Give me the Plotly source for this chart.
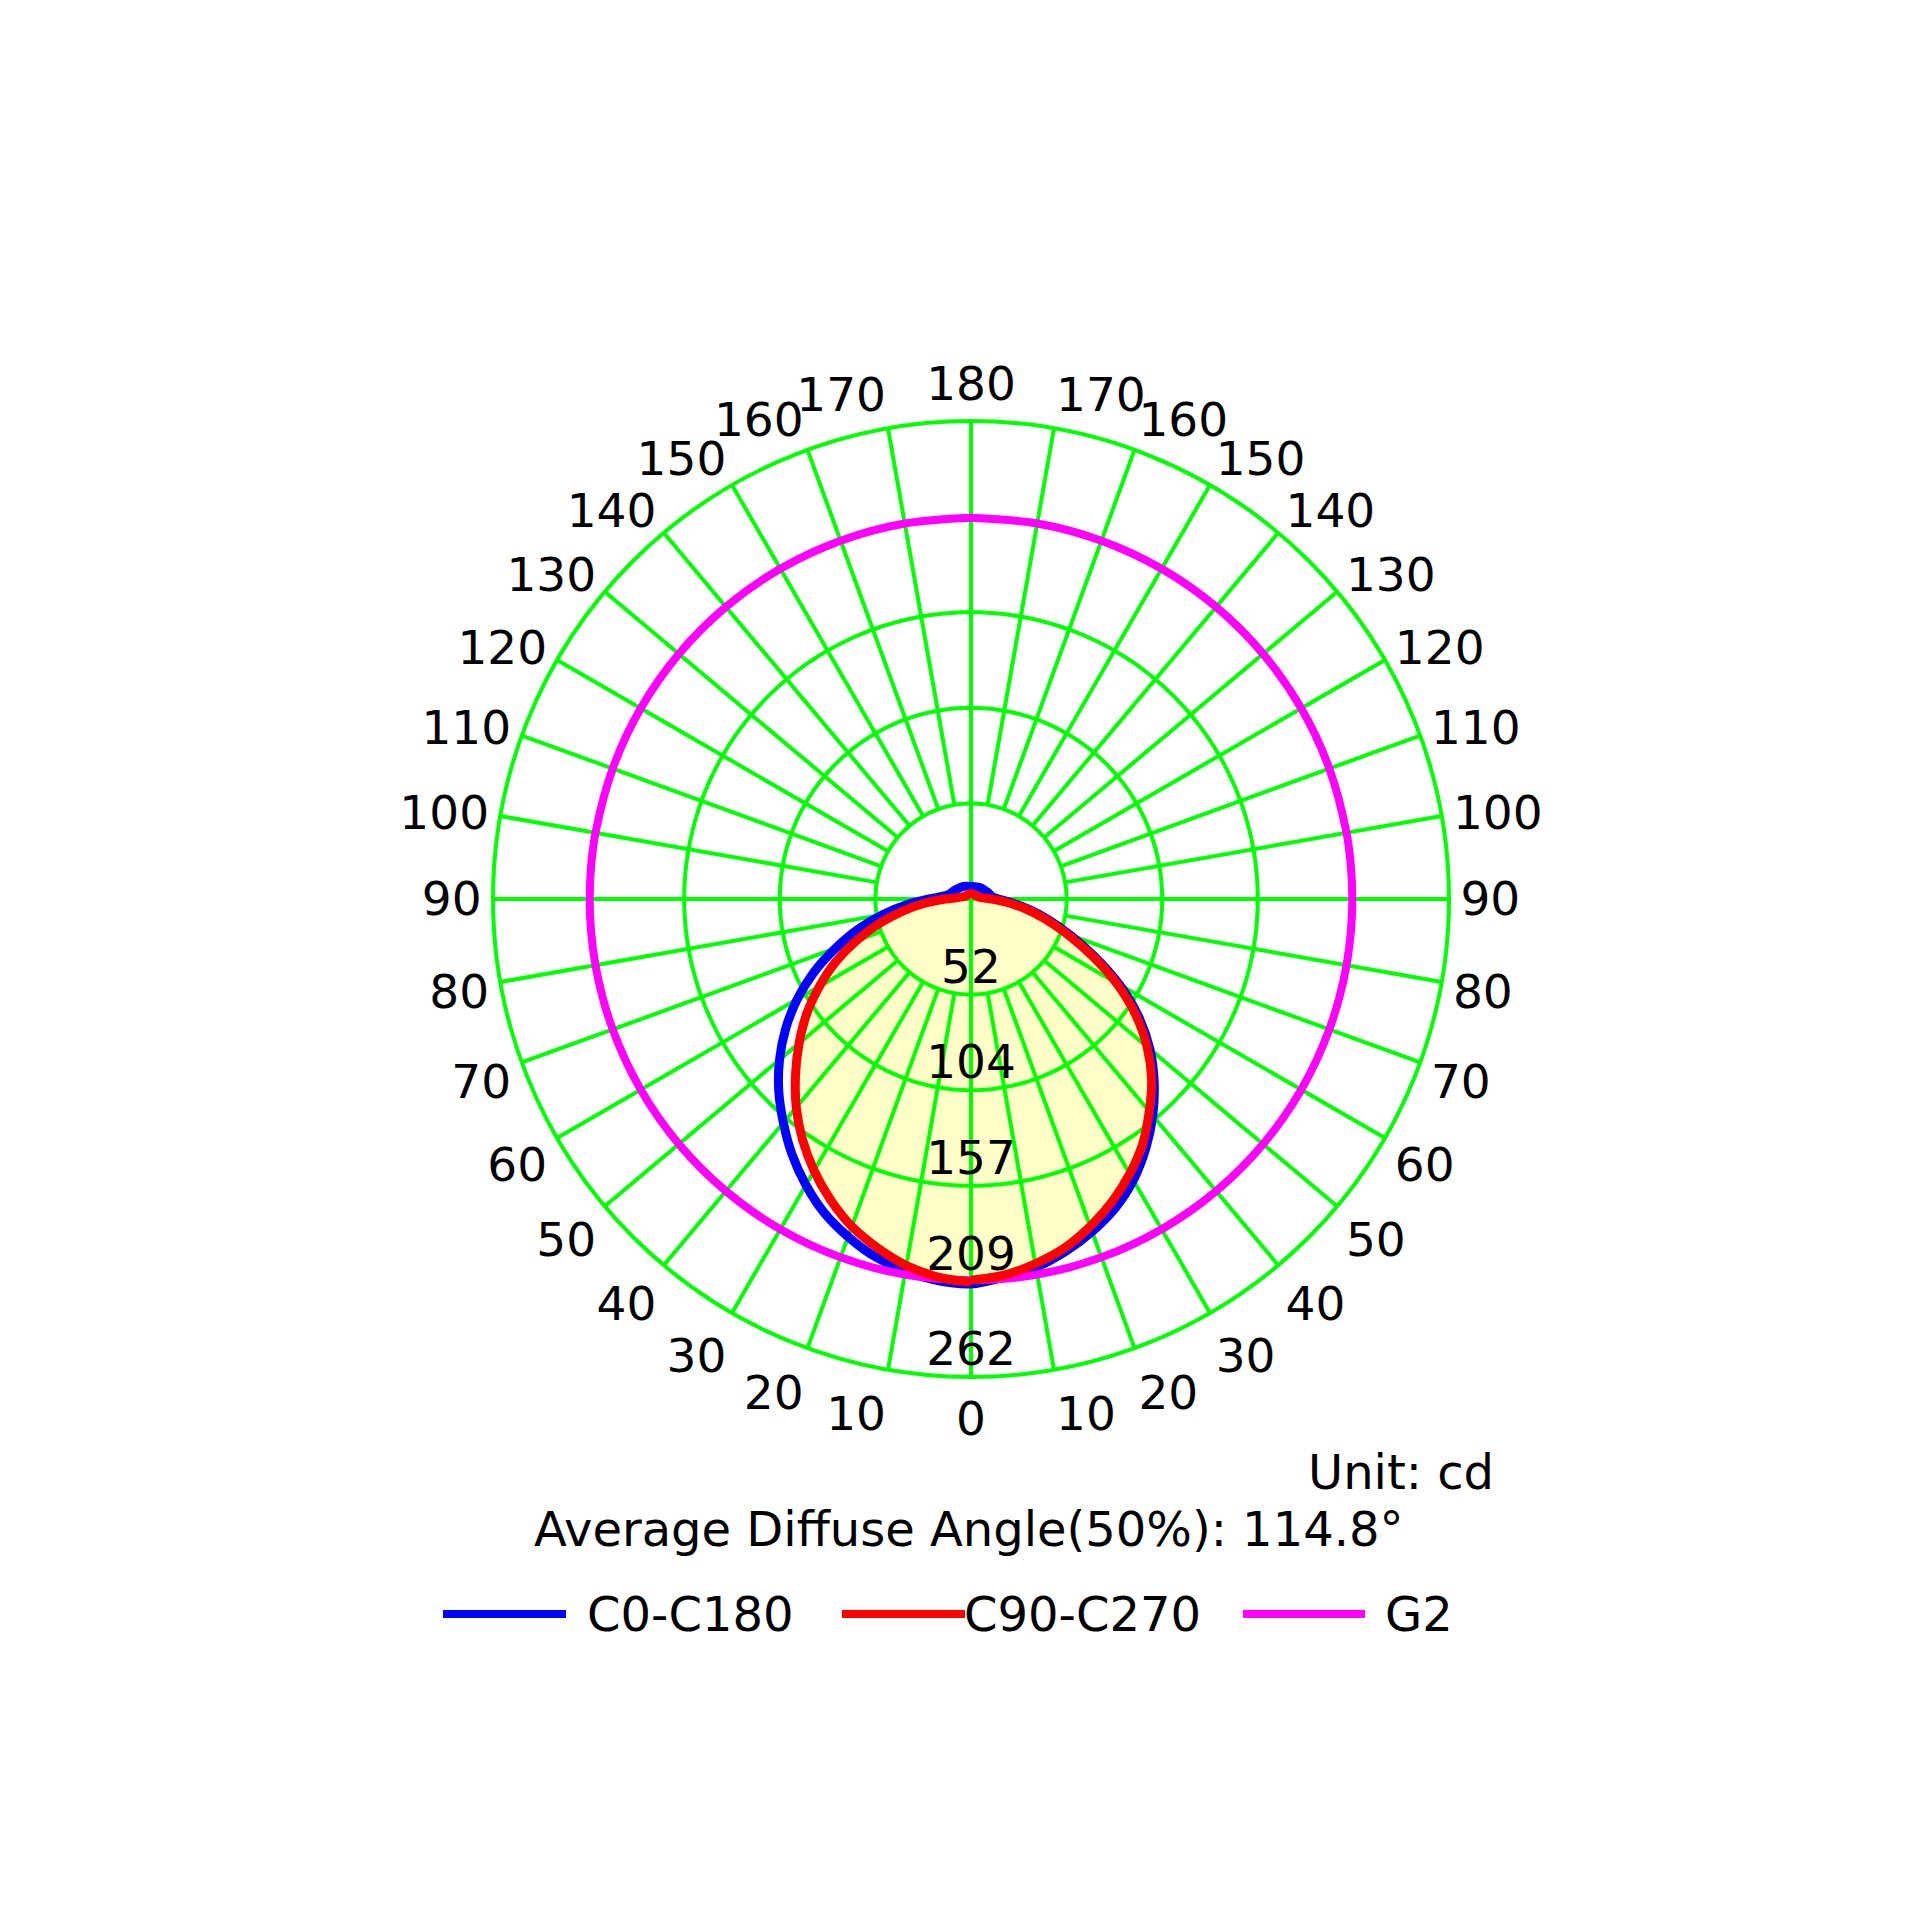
import plotly.graph_objects as go

# ---------------- data ----------------
gamma = [0, 5, 10, 15, 20, 25, 30, 35, 40, 45, 50, 55, 60, 65, 70, 75, 80, 85, 90,
         95, 100, 110, 120, 130, 140, 150, 160, 170, 180]

c0 = [211, 210, 207, 203, 197, 190, 181, 171, 160, 149, 137, 124, 110, 95, 79, 64, 49, 35, 23,
      16, 13, 11, 10, 9, 8.5, 8, 7.5, 7, 7]
c180 = [211, 208, 205, 200, 194, 187, 178, 167, 155, 142, 128, 112, 94, 75, 58, 44, 32, 22, 15,
        12, 11, 10, 9, 8.5, 8, 7.5, 7, 7, 7]
c90 = [210, 208, 204, 198, 191, 182, 172, 161, 149, 136, 123, 110, 96, 82, 67, 52, 38, 25, 14,
       8, 6, 4, 3.5, 3, 3, 3, 3, 3, 3]
c270 = [209, 207, 203, 198, 191, 183, 174, 164, 152, 140, 126, 110, 92, 73, 56, 42, 30, 19, 11,
        7, 5, 4, 3.5, 3, 3, 3, 3, 3, 3]
g2_left = [209, 209, 209, 209, 209, 209, 209, 209, 209, 209, 209, 209, 209, 209, 209, 209, 209, 209, 209,
           209, 209, 209, 209, 209, 209, 209, 209, 209, 209]
g2_right = [209, 209, 209, 209, 209, 209, 209, 209, 209, 209, 209, 209, 209, 209, 209, 209, 209, 209, 209,
            209, 209, 209, 209, 209, 209, 209, 209, 209, 209]

series_names = ["C0-C180", "C90-C270", "G2"]
series_colors = ["#0000FF", "#FF0000", "#FF00FF"]

r_max = 262
ring_values = [52.4, 104.8, 157.2, 209.6, 262]
ring_labels = ["52", "104", "157", "209", "262"]
angle_ticks = list(range(0, 360, 10))
angle_labels = [str(a if a <= 180 else 360 - a) for a in angle_ticks]

unit_text = "Unit: cd"
diffuse_text = "Average Diffuse Angle(50%): 114.8°"

FONT = "DejaVu Sans"
FS = 47
FS_TXT = 48
GRID = "#00FF00"


def closed_curve(left, right):
    th = list(gamma) + [360 - g for g in reversed(gamma)]
    rr = list(left) + list(reversed(right))
    return th, rr


fig = go.Figure()

# yellow fill under the C90-C270 curve
th_f, r_f = closed_curve(c90, c270)
fig.add_trace(go.Scatterpolar(theta=th_f, r=r_f, mode="lines", fill="toself",
                              fillcolor="#FFFFC8",
                              line=dict(width=0, color="#FFFFC8", shape="spline", smoothing=1),
                              showlegend=False, hoverinfo="skip"))

# grid drawn as traces (so it sits above the fill)
sp_t, sp_r = [], []
for a in angle_ticks:
    r0 = 0 if a % 90 == 0 else ring_values[0]
    sp_t += [a, a, None]
    sp_r += [r0, r_max, None]
fig.add_trace(go.Scatterpolar(theta=sp_t, r=sp_r, mode="lines",
                              line=dict(color=GRID, width=4), showlegend=False,
                              hoverinfo="skip"))
rg_t, rg_r = [], []
for rv in ring_values[:-1]:
    ts = list(range(0, 361, 2))
    rg_t += ts + [None]
    rg_r += [rv] * len(ts) + [None]
fig.add_trace(go.Scatterpolar(theta=rg_t, r=rg_r, mode="lines",
                              line=dict(color=GRID, width=4), showlegend=False,
                              hoverinfo="skip"))

# curves
th_b, r_b = closed_curve(c0, c180)
th_g, r_g = closed_curve(g2_left, g2_right)
fig.add_trace(go.Scatterpolar(theta=th_b, r=r_b, mode="lines", name=series_names[0],
                              line=dict(color=series_colors[0], width=9, shape="spline", smoothing=1),
                              showlegend=False))
fig.add_trace(go.Scatterpolar(theta=th_g, r=r_g, mode="lines", name=series_names[2],
                              line=dict(color=series_colors[2], width=8, shape="spline", smoothing=1),
                              showlegend=False))
fig.add_trace(go.Scatterpolar(theta=th_f, r=r_f, mode="lines", name=series_names[1],
                              line=dict(color=series_colors[1], width=9, shape="spline", smoothing=1),
                              showlegend=False))

# radial value labels
fig.add_trace(go.Scatterpolar(theta=[0] * len(ring_values), r=ring_values, mode="text",
                              text=ring_labels, textposition="top center",
                              textfont=dict(family=FONT, size=FS, color="black"),
                              showlegend=False, hoverinfo="skip"))

fig.update_layout(
    width=1920, height=1920,
    margin=dict(l=0, r=0, t=0, b=0),
    paper_bgcolor="white",
    font=dict(family=FONT, size=FS, color="black"),
    polar=dict(
        domain=dict(x=[493 / 1920, 1449 / 1920], y=[1 - 1377 / 1920, 1 - 421 / 1920]),
        bgcolor="white",
        angularaxis=dict(rotation=270, direction="clockwise", tickmode="array",
                         tickvals=angle_ticks, ticktext=angle_labels, showgrid=False,
                         ticks="", showline=True, linecolor=GRID, linewidth=4,
                         tickfont=dict(family=FONT, size=FS, color="black")),
        radialaxis=dict(range=[0, r_max], showgrid=False, showline=False,
                        showticklabels=False, ticks=""),
    ),
    showlegend=False,
)

# text annotations
fig.add_annotation(x=1496 / 1920, y=1 - 1472 / 1920, xref="paper", yref="paper",
                   text=unit_text, showarrow=False, xanchor="right", yanchor="middle",
                   font=dict(family=FONT, size=FS_TXT, color="black"))
fig.add_annotation(x=969 / 1920, y=1 - 1529 / 1920, xref="paper", yref="paper",
                   text=diffuse_text, showarrow=False, xanchor="center", yanchor="middle",
                   font=dict(family=FONT, size=FS_TXT, color="black"))

# custom legend with long line samples
leg_y = 1 - 1614 / 1920
leg_line_x = [(443, 566), (842, 965), (1243, 1365)]
leg_text_x = [585, 962, 1383]
for name, col, (x0, x1), tx in zip(series_names, series_colors, leg_line_x, leg_text_x):
    fig.add_shape(type="line", xref="paper", yref="paper", x0=x0 / 1920, x1=x1 / 1920,
                  y0=leg_y, y1=leg_y, line=dict(color=col, width=8))
    fig.add_annotation(x=tx / 1920, y=leg_y, xref="paper", yref="paper", text=name,
                       showarrow=False, xanchor="left", yanchor="middle",
                       font=dict(family=FONT, size=FS_TXT, color="black"))

fig.write_html("out.html")
